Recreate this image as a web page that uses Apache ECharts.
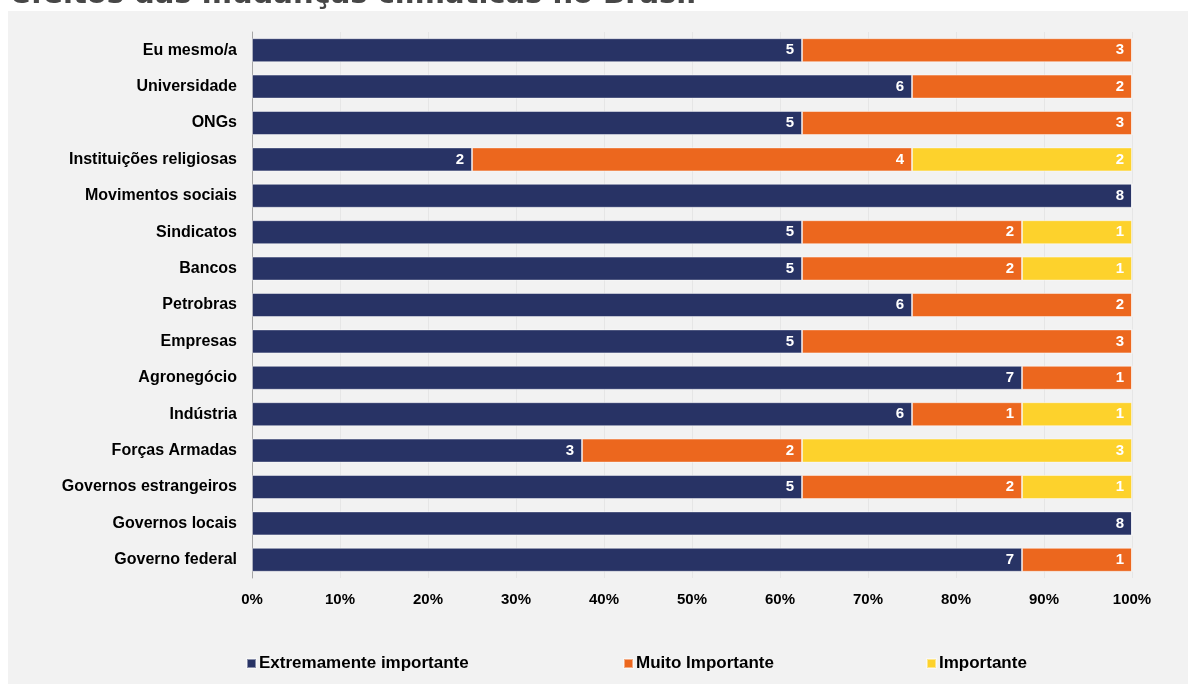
<!DOCTYPE html>
<html>
<head>
<meta charset="utf-8">
<script src="https://cdn.jsdelivr.net/npm/echarts@6/dist/echarts.min.js"></script>
<style>
  html, body { margin: 0; padding: 0; background: #fff; }
  #chart { width: 1188px; height: 684px; }
</style>
</head>
<body>
<div id="chart"></div>
<script>
// dados (de cima para baixo)
var categorias = ['Eu mesmo/a', 'Universidade', 'ONGs', 'Instituições religiosas', 'Movimentos sociais',
    'Sindicatos', 'Bancos', 'Petrobras', 'Empresas', 'Agronegócio', 'Indústria', 'Forças Armadas',
    'Governos estrangeiros', 'Governos locais', 'Governo federal'];
var extremamente = [5, 6, 5, 2, 8, 5, 5, 6, 5, 7, 6, 3, 5, 8, 7];
var muito = [3, 2, 3, 4, 0, 2, 2, 2, 3, 1, 1, 2, 2, 0, 1];
var importante = [0, 0, 0, 2, 0, 1, 1, 0, 0, 0, 1, 3, 1, 0, 0];
var nomes = ['Extremamente importante', 'Muito Importante', 'Importante'];
var cores = ['#283365', '#EC671E', '#FDD22C'];
var titulo = 'efeitos das mudanças climáticas no Brasil';

var fonte = '"Liberation Sans", Arial, sans-serif';
var series_raw = [extremamente, muito, importante];

// percentuais para empilhar a 100%
function pct(arr, i) {
    var tot = extremamente[i] + muito[i] + importante[i];
    return { value: arr[i] / tot * 100, raw: arr[i] };
}

var myChart = echarts.init(document.getElementById('chart'));

var series = [];
for (var s = 0; s < 3; s++) {
    var d = [];
    for (var i = 0; i < categorias.length; i++) {
        d.push(pct(series_raw[s], i));
    }
    series.push({
        name: nomes[s],
        type: 'bar',
        stack: 'total',
        barWidth: 24,
        data: d,
        itemStyle: { color: cores[s], borderColor: 'rgba(255,255,255,0.45)', borderWidth: 1 },
        label: {
            show: true,
            position: 'insideRight',
            distance: 8,
            color: '#fff',
            fontWeight: 'bold',
            fontSize: 15,
            fontFamily: fonte,
            formatter: function (p) { return p.data.raw ? p.data.raw : ''; }
        }
    });
}

var legendas = [];
var posLegenda = [241, 618, 921];
for (var k = 0; k < 3; k++) {
    legendas.push({
        data: [nomes[k]],
        left: posLegenda[k],
        top: 650,
        itemWidth: 9,
        itemHeight: 9,
        itemGap: 4,
        icon: 'rect',
        textStyle: { color: '#000', fontWeight: 'bold', fontSize: 17, fontFamily: fonte, padding: [0, 0, 0, -2] }
    });
}

var option = {
    backgroundColor: '#ffffff',
    animation: false,
    graphic: [{
        type: 'rect',
        left: 8, top: 11,
        shape: { width: 1180, height: 673 },
        style: { fill: '#f2f2f2' },
        z: -10
    }],
    title: {
        text: titulo,
        left: 6,
        top: -24,
        textStyle: { color: '#474747', fontSize: 29, fontWeight: 'bold', fontFamily: '"DejaVu Sans", sans-serif' }
    },
    legend: legendas,
    grid: { left: 252, right: 56, top: 32, bottom: 106 },
    xAxis: {
        type: 'value',
        min: 0,
        max: 100,
        interval: 10,
        axisLine: { show: false },
        axisTick: { show: false },
        splitLine: { show: true, lineStyle: { color: '#e6e6e6', width: 1 } },
        axisLabel: {
            margin: 14,
            color: '#000',
            fontWeight: 'bold',
            fontSize: 15,
            fontFamily: fonte,
            formatter: '{value}%'
        }
    },
    yAxis: {
        type: 'category',
        inverse: true,
        data: categorias,
        axisLine: { show: true, lineStyle: { color: '#a6a6a6', width: 1 } },
        axisTick: { show: false },
        axisLabel: {
            margin: 15,
            color: '#000',
            fontWeight: 'bold',
            fontSize: 16,
            fontFamily: fonte
        }
    },
    series: series
};

myChart.setOption(option);
</script>
</body>
</html>
